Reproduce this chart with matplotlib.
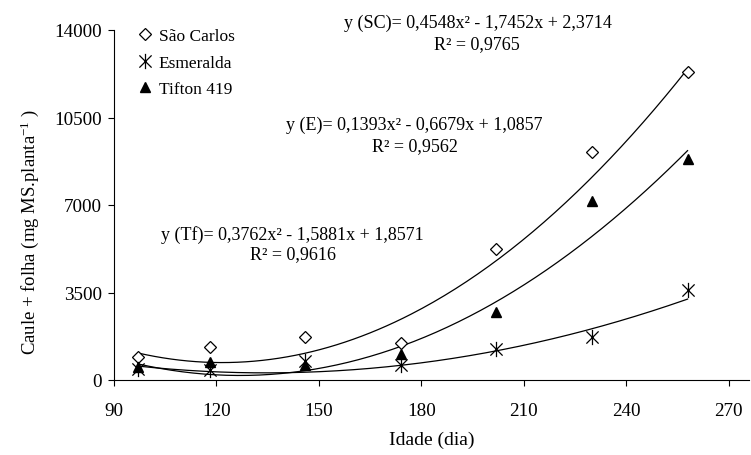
import numpy as np
import matplotlib
matplotlib.use('Agg')
import matplotlib.pyplot as plt
from matplotlib.path import Path

plt.rcParams['font.family'] = 'Liberation Serif'
plt.rcParams['mathtext.fontset'] = 'custom'
plt.rcParams['mathtext.rm'] = 'Liberation Serif'
plt.rcParams['mathtext.it'] = 'Liberation Serif:italic'

# idade das plantas (dias) e producao de caule + folha (mg MS/planta)
idade = [97, 118, 146, 174, 202, 230, 258]
sao_carlos = [930, 1310, 1730, 1480, 5250, 9130, 12310]
esmeralda = [430, 400, 750, 590, 1230, 1730, 3610]
tifton = [510, 720, 610, 1040, 2720, 7150, 8850]

# coeficientes das equacoes ajustadas (x = ordem da coleta, y em mil mg)
coef_sc = [0.4548, -1.7452, 2.3714]
coef_e = [0.1393, -0.6679, 1.0857]
coef_tf = [0.3762, -1.5881, 1.8571]

eq_sc = 'y (SC)= 0,4548x² - 1,7452x + 2,3714'
r2_sc = 'R² = 0,9765'
eq_e = 'y (E)= 0,1393x² - 0,6679x + 1,0857'
r2_e = 'R² = 0,9562'
eq_tf = 'y (Tf)= 0,3762x² - 1,5881x + 1,8571'
r2_tf = 'R² = 0,9616'

W, H = 751, 456
fig = plt.figure(figsize=(W / 100, H / 100), dpi=100)
ax = fig.add_axes([114 / W, 1 - 381 / H, (749 - 114) / W, 350 / H])

# marcador asterisco (X com traco vertical)
ast = Path([(0, -1), (0, 1), (-0.8, -0.8), (0.8, 0.8), (-0.8, 0.8), (0.8, -0.8)],
           [Path.MOVETO, Path.LINETO, Path.MOVETO, Path.LINETO, Path.MOVETO, Path.LINETO])

# curvas de tendencia
dias = np.linspace(idade[0], idade[-1], 200)
xc = 1 + (dias - idade[0]) / (idade[-1] - idade[0]) * (len(idade) - 1)
for coef in (coef_sc, coef_e, coef_tf):
    ax.plot(dias, np.polyval(coef, xc) * 1000, color='black', lw=0.9, zorder=2)

ax.plot(idade, sao_carlos, ls='none', marker='D', ms=6, mfc='white', mec='black',
        mew=0.9, label='São Carlos', zorder=3)
ax.plot(idade, esmeralda, ls='none', marker=ast, ms=11, mfc='none', mec='black',
        mew=0.9, label='Esmeralda', zorder=3)
ax.plot(idade, tifton, ls='none', marker='^', ms=7, color='black',
        label='Tifton 419', zorder=3)

ax.set_xlim(90, 276)
ax.set_ylim(0, 14000)
ax.set_xticks(range(90, 271, 30))
ax.set_yticks([0, 3500, 7000, 10500, 14000])
ax.spines['top'].set_visible(False)
ax.spines['right'].set_visible(False)
for s in ('left', 'bottom'):
    ax.spines[s].set_linewidth(0.8)
ax.tick_params(axis='both', direction='out', length=4.5, width=0.8, labelsize=13.8)
ax.tick_params(axis='y', pad=4)
ax.tick_params(axis='x', pad=11)

ax.set_xlabel('Idade (dia)', fontsize=14, labelpad=9)
ax.set_ylabel('Caule + folha (mg MS.planta$^{-1}$ )', fontsize=13.5)
ax.yaxis.set_label_coords(-0.115, 0.425)

fig.legend(loc='upper left', bbox_to_anchor=(136 / W, 1 - 29 / H), frameon=False,
           fontsize=12.5, handlelength=1.0, handletextpad=0.3, labelspacing=0.6,
           borderpad=0, borderaxespad=0)

def ftxt(x, y, s):
    fig.text(x / W, 1 - y / H, s, ha='center', va='center', fontsize=13)

ftxt(478, 23, eq_sc)
ftxt(477, 45, r2_sc)
ftxt(414, 125, eq_e)
ftxt(415, 147, r2_e)
ftxt(292, 235, eq_tf)
ftxt(293, 255, r2_tf)

fig.savefig('out.png', dpi=100)
